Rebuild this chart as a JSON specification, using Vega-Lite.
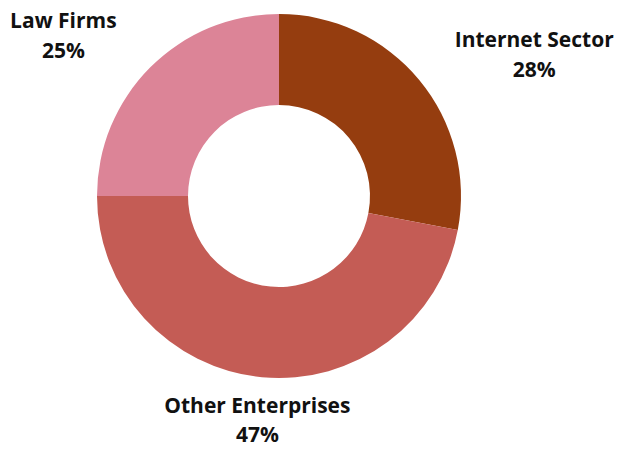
{
  "$schema": "https://vega.github.io/schema/vega-lite/v6.json",
  "width": 558,
  "height": 392,
  "autosize": {"type": "none"},
  "padding": {"left": 0, "top": 0, "right": 60, "bottom": 57},
  "background": "white",
  "view": {"stroke": null},
  "data": {
    "values": [
      {"category": "Internet Sector", "value": 28, "order": 1},
      {"category": "Other Enterprises", "value": 47, "order": 2},
      {"category": "Law Firms", "value": 25, "order": 3}
    ]
  },
  "transform": [
    {"calculate": "datum.category + '\\n' + datum.value + '%'", "as": "label"}
  ],
  "encoding": {
    "theta": {"field": "value", "type": "quantitative", "stack": true},
    "order": {"field": "order", "type": "quantitative"}
  },
  "layer": [
    {
      "mark": {"type": "arc", "outerRadius": 182, "innerRadius": 91, "stroke": null},
      "encoding": {
        "color": {
          "field": "category",
          "type": "nominal",
          "scale": {
            "domain": ["Internet Sector", "Other Enterprises", "Law Firms"],
            "range": ["#953D0F", "#C45C55", "#DC8497"]
          },
          "legend": null
        }
      }
    },
    {
      "mark": {"type": "text", "radius": 230, "dx": 78, "dy": -8, "font": "Open Sans", "fontWeight": "bold", "fontSize": 21, "lineBreak": "\n", "lineHeight": 30, "color": "#111111", "baseline": "middle", "align": "center"},
      "encoding": {
        "text": {"condition": {"test": "datum.category == 'Internet Sector'", "field": "label"}, "value": ""}
      }
    },
    {
      "mark": {"type": "text", "radius": 230, "dx": 0, "dy": -18, "font": "Open Sans", "fontWeight": "bold", "fontSize": 21, "lineBreak": "\n", "lineHeight": 29, "color": "#111111", "baseline": "middle", "align": "center"},
      "encoding": {
        "text": {"condition": {"test": "datum.category == 'Other Enterprises'", "field": "label"}, "value": ""}
      }
    },
    {
      "mark": {"type": "text", "radius": 230, "dx": -53, "dy": -11, "font": "Open Sans", "fontWeight": "bold", "fontSize": 21, "lineBreak": "\n", "lineHeight": 30, "color": "#111111", "baseline": "middle", "align": "center"},
      "encoding": {
        "text": {"condition": {"test": "datum.category == 'Law Firms'", "field": "label"}, "value": ""}
      }
    }
  ]
}
